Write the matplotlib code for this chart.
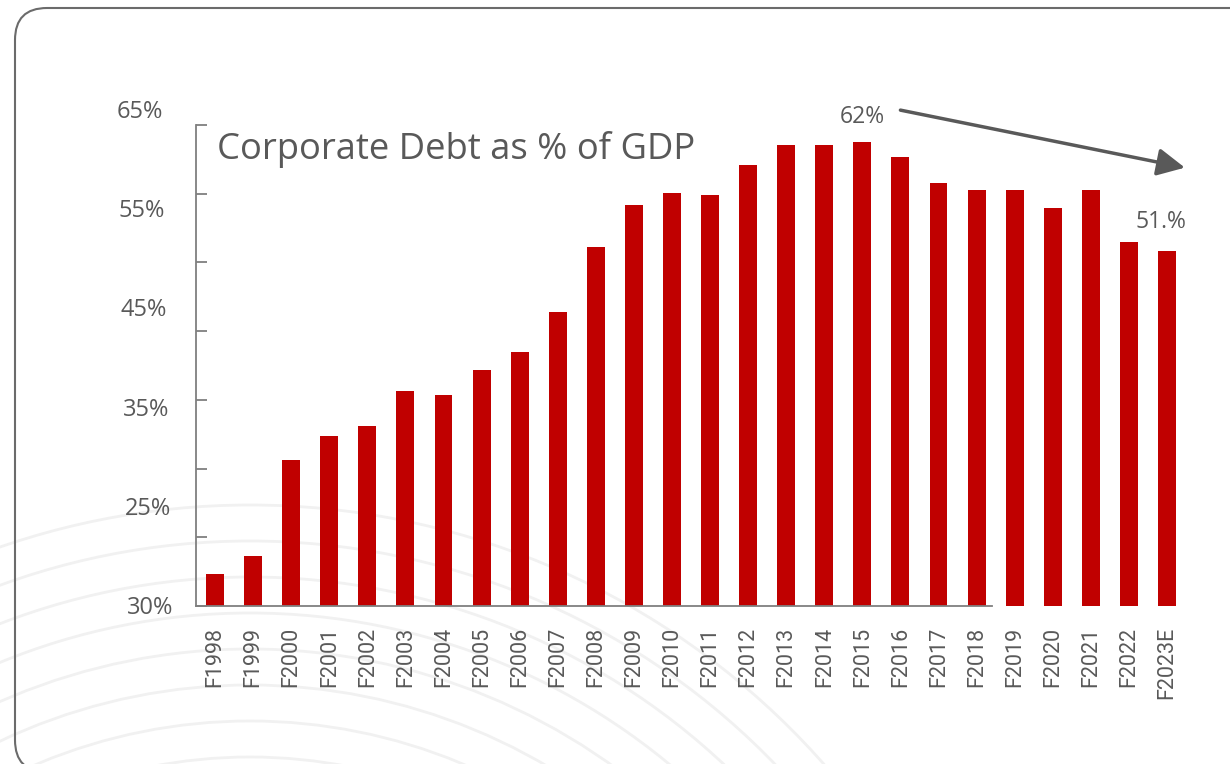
import numpy as np
import matplotlib.pyplot as plt
from matplotlib.patches import FancyBboxPatch, Arc

years = ["F1998", "F1999", "F2000", "F2001", "F2002", "F2003", "F2004", "F2005",
         "F2006", "F2007", "F2008", "F2009", "F2010", "F2011", "F2012", "F2013",
         "F2014", "F2015", "F2016", "F2017", "F2018", "F2019", "F2020", "F2021",
         "F2022", "F2023E"]
debt_pct = [18.4, 20.2, 29.9, 32.3, 33.4, 36.9, 36.5, 39.0, 40.8, 44.8, 51.4, 55.6,
            56.8, 56.6, 59.7, 61.7, 61.7, 62.0, 60.5, 57.9, 57.1, 57.1, 55.3, 57.1,
            51.9, 51.0]

# left-hand labels as they appear on the slide (bottom one reads 30%)
ylabel_vals = [65, 55, 45, 35, 25, 15]
ylabel_text = ["65%", "55%", "45%", "35%", "25%", "30%"]

RED = "#C00000"
GREY = "#595959"
title_font = "Open Sans"

fig = plt.figure(figsize=(12.3, 7.64), dpi=100)
W, H = 1230, 764

# background layer in pixel units (origin bottom-left)
bg = fig.add_axes([0, 0, 1, 1], zorder=0)
bg.set_xlim(0, W)
bg.set_ylim(0, H)
bg.axis("off")
# faint decorative arcs
for k in range(9):
    r = 765 - 36 * k
    bg.add_patch(Arc((250, H - 1270), 2 * r, 2 * r, theta1=0, theta2=180,
                     color="#f1f1f1", lw=2))
# rounded card outline, runs off the right and bottom edges
bg.add_patch(FancyBboxPatch((15, -8), 1300, H, boxstyle="round,pad=0,rounding_size=32",
                            fill=False, ec="#6b6b6b", lw=1.5))

ax = fig.add_axes([196 / W, 1 - 606 / H, 990 / W, 481 / H], zorder=1)
ax.patch.set_alpha(0)
x = np.arange(len(years))
ax.bar(x, debt_pct, width=0.47, color=RED, zorder=2)

ax.set_xlim(-0.5, len(years) - 0.5)
ax.set_ylim(15.2, 63.7)
for s in ["top", "right"]:
    ax.spines[s].set_visible(False)
ax.spines["left"].set_color("#7f7f7f")
ax.spines["bottom"].set_color("#7f7f7f")
ax.spines["left"].set_linewidth(1.3)
ax.spines["bottom"].set_linewidth(1.3)
ax.spines["bottom"].set_bounds(-0.5, 20.4)

ax.set_yticks(np.linspace(15.2, 63.7, 8))
ax.tick_params(axis="y", direction="in", length=8, width=1.3, color="#7f7f7f",
               labelleft=False)
ax.set_xticks(x)
ax.set_xticklabels(years, rotation=90, fontsize=15.5, color=GREY, family="Roboto")
ax.tick_params(axis="x", length=0, pad=15)

for v, t in zip(ylabel_vals, ylabel_text):
    ax.annotate(t, xy=(0, v), xycoords=("axes fraction", "data"),
                xytext=(-24 + (65 - v) * 0.15, 0), textcoords="offset points",
                ha="right", va="center", fontsize=17, color=GREY,
                family=title_font, annotation_clip=False)

fig.text(217 / W, 1 - 150 / H, "Corporate Debt as % of GDP", fontsize=26.2,
         color=GREY, family=title_font, va="center", ha="left")

# peak and latest estimate labels
i_peak = years.index("F2015")
ax.annotate(f"{debt_pct[i_peak]:.0f}%", xy=(i_peak, debt_pct[i_peak]),
            xytext=(0, 18), textcoords="offset points", ha="center", va="center",
            fontsize=16.5, color=GREY, family=title_font, annotation_clip=False)
i_last = len(years) - 1
ax.annotate(f"{debt_pct[i_last]:.0f}.%", xy=(i_last, debt_pct[i_last]),
            xytext=(-4, 21), textcoords="offset points", ha="center", va="center",
            fontsize=16.5, color=GREY, family=title_font, annotation_clip=False)

# downward trend arrow
ax.annotate("", xy=(25.47, 59.4), xytext=(18.0, 65.2),
            arrowprops=dict(arrowstyle="-|>", color=GREY, lw=2.5, mutation_scale=42,
                            shrinkA=0, shrinkB=0),
            annotation_clip=False)

fig.savefig("out.png", dpi=100)
